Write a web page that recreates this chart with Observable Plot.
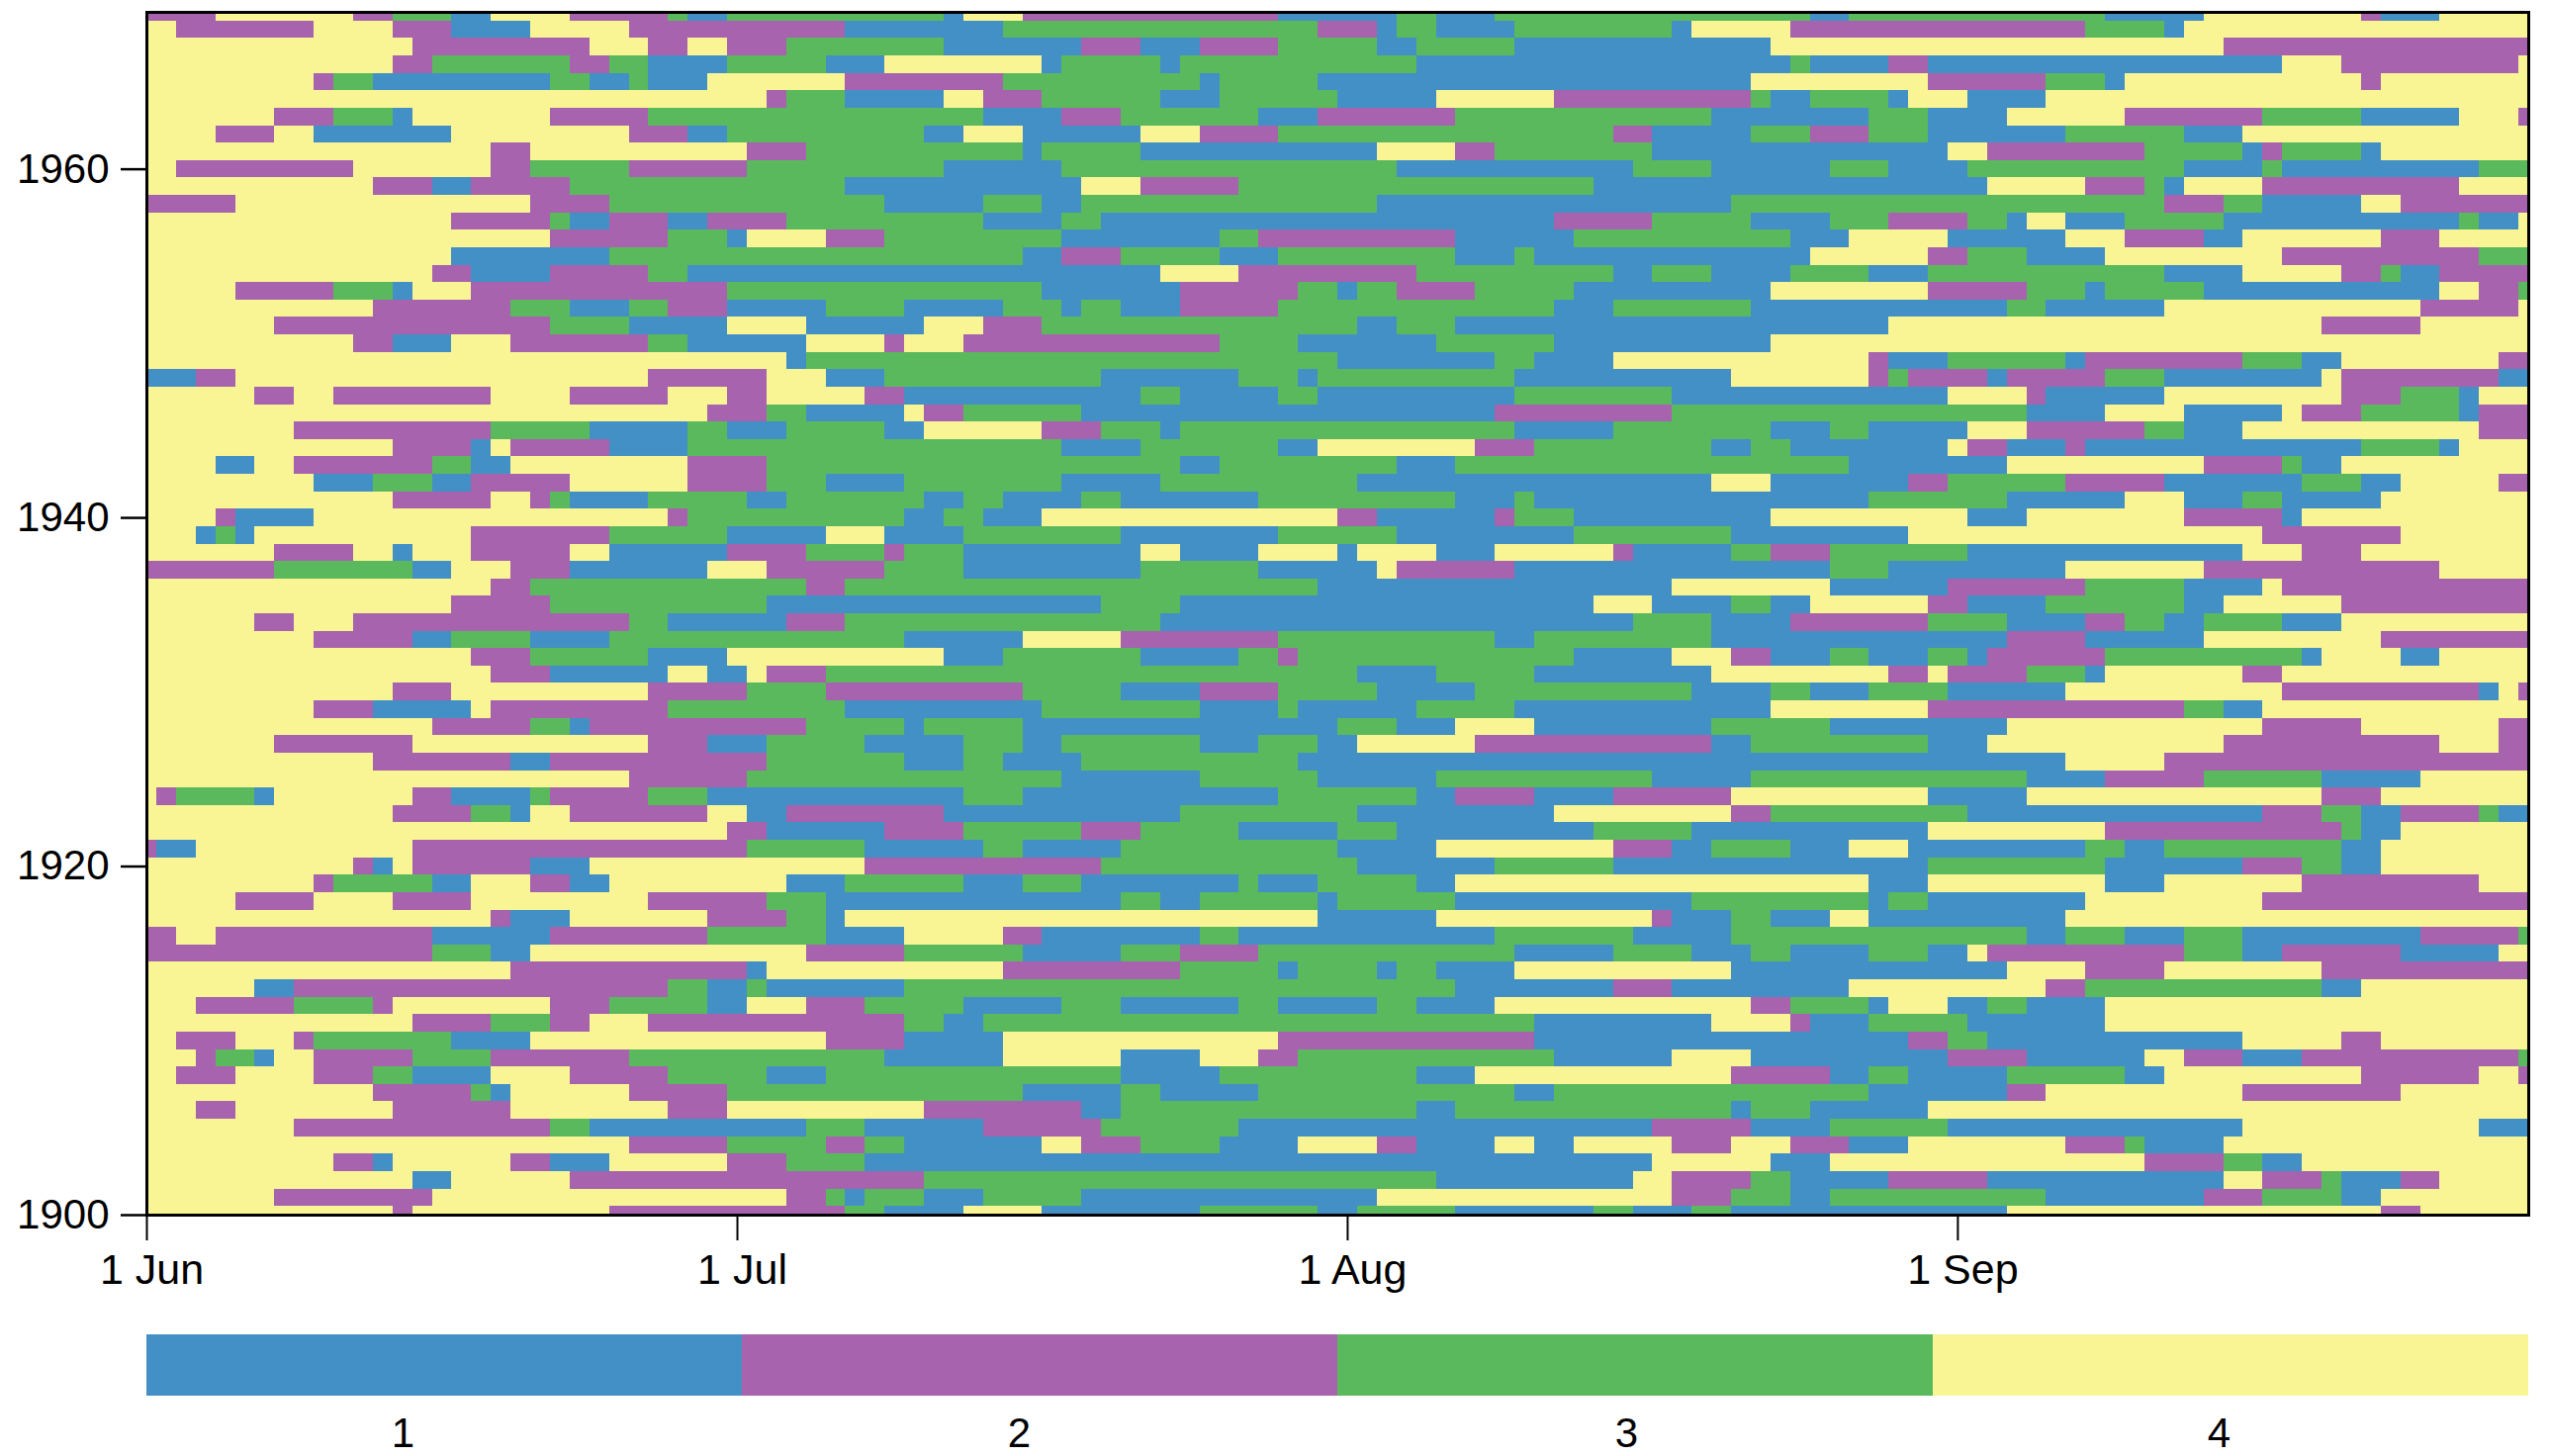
<!DOCTYPE html>
<html>
<head>
<meta charset="utf-8">
<script src="https://cdn.jsdelivr.net/npm/d3@7"></script>
<script src="https://cdn.jsdelivr.net/npm/@observablehq/plot@0.6"></script>
<style>
html,body{margin:0;padding:0;background:#fff;overflow:hidden}
svg{display:block}
</style>
</head>
<body>
<div id="chart"></div>
<div id="legend"></div>
<script>
const states = [1, 2, 3, 4];
const stateLetters = {B: 1, P: 2, G: 3, Y: 4};
const stateColors = ["#4390c6", "#a763ae", "#5ab95d", "#f9f595"];
const firstYear = 1969;
const lastDay = 121;
const yearTicks = [1900, 1920, 1940, 1960];
const dayTicks = [0, 30, 61, 92];
const dayLabels = ["1 Jun", "1 Jul", "1 Aug", "1 Sep"];
const legendLabelAt = [0.43, 1.465, 2.485, 3.48];

// One string per year, from 1969 down to 1900: state letter + first day of the run.
const runs = [
"P0 Y4 P11 G13 B16 Y18 P22 G27 B28 G30 B41 Y42 P45 B58 G64 B66 G69 B85 G87 B100 Y105 P113 B114 Y117",
"Y0 P2 Y9 P13 B16 Y20 P25 B36 G44 P60 B63 G64 B66 G70 B78 Y79 P84 G99 B103 Y104",
"Y0 P14 Y23 P26 Y28 P30 G33 B41 P48 B51 P54 G58 B63 G65 B70 Y83 P106",
"Y0 P13 G15 P22 G24 B26 G30 B35 Y38 B46 G47 B52 G53 B65 G84 B85 P89 B91 Y109 P112 Y121",
"Y0 P9 G10 B12 G21 B23 G25 B26 Y29 P36 G44 B54 G55 B60 Y82 P91 G97 B100 Y101 P113 Y114",
"Y0 P32 G33 B36 Y41 P43 G46 B52 G55 B61 Y66 P72 G82 B83 G85 B89 Y90 B93 Y97",
"Y0 P7 G10 B13 Y14 P21 G26 B43 P47 G50 B57 P60 G67 B80 G88 B91 Y95 P101 G108 B113 Y118 P121",
"Y0 P4 Y7 B9 Y16 P25 B28 G30 B40 Y42 B45 Y51 P54 G58 P75 B77 G82 P85 G88 B91 G98 B104 Y107",
"Y0 P18 Y20 P31 G34 B45 G46 B51 Y63 P67 G69 B77 Y92 P94 G102 B107 P108 G109 B113 Y114",
"Y0 P2 Y11 P18 G20 P25 G31 B41 G47 B64 G76 B80 G86 B89 G93 B104 G108 B109 G119",
"Y0 P12 B15 P17 G22 B36 Y48 P51 G56 B74 Y94 P99 G102 B103 Y104 P108 Y118",
"P0 Y5 P20 G24 B38 G43 B46 G48 B63 G81 P103 G106 B108 Y113 P115",
"Y0 P16 G21 B22 P24 B27 P29 G33 B43 G47 B49 P72 G77 B82 G86 P89 G93 B95 Y96 B98 G101 B106 G118 B119 Y121",
"Y0 P21 G27 B30 Y31 P35 G38 B47 G55 P57 B67 G73 B84 Y87 B92 Y98 P101 B105 Y107 P114 Y117",
"Y0 B16 G24 B45 P47 G50 B55 G58 B67 G70 B71 Y85 P91 G93 B96 Y100 P109 G119",
"Y0 P15 B17 P21 G26 B28 Y52 P56 G65 B75 G77 B80 G84 B88 G91 B103 Y107 P112 G114 B115 P117",
"Y0 P5 G10 B13 Y14 P17 G30 B46 P53 G59 B61 G62 P64 G68 B73 Y83 P91 G96 B99 G100 B105 Y117 P119 G121",
"Y0 P12 G19 B22 G25 P27 B30 G35 B39 G44 B47 G48 B50 P53 G58 B72 G75 B82 G95 B97 Y103 P116 Y121",
"Y0 P7 G21 B25 Y30 B34 Y40 P43 G46 B62 G64 B67 Y89 P111 Y116",
"Y0 P11 B13 Y16 P19 G26 B28 Y34 P38 Y39 P42 G55 B59 G66 B72 Y83",
"Y0 B33 G34 B61 G69 B71 Y75 P88 B89 G92 B98 P99 G107 B110 Y112 P120",
"B0 P3 Y5 P26 Y32 B35 G38 B49 G56 B59 G60 B70 Y81 P88 G89 P90 B94 P95 G100 B103 Y111 P112 B120",
"Y0 P6 Y8 P10 Y18 P22 Y27 P30 Y32 P37 B39 G51 B53 G58 B60 G70 B78 Y92 P96 B97 Y103 P112 G115 B118 Y119",
"Y0 P29 G32 B34 Y39 P40 G42 B48 P69 G78 B96 Y100 B104 Y109 P110 G113 B118 P119",
"Y0 P8 G18 B23 G28 B30 G33 B38 Y40 P46 G49 B52 G53 B70 G75 B83 G86 B88 Y93 P96 G102 B104 Y107 P119",
"Y0 P13 B17 Y18 P19 B24 G28 B47 G51 B58 Y60 P68 G71 B80 G82 B84 Y92 P93 B95 P98 B99 G113 B117 Y118",
"Y0 B4 Y6 P8 G15 B17 Y19 P28 G32 B53 G55 B64 G67 B87 Y95 P105 G109 B110 Y112",
"Y0 B9 G12 B15 P17 Y22 P28 G32 B35 G39 B47 G52 B62 Y80 B83 P90 G92 P98 B103 G110 B113 Y115 P120",
"Y0 P13 Y18 P20 G21 B22 G26 B31 G33 B40 G42 B44 G48 B50 G57 B67 G70 B71 G88 B95 Y101 B104 G107 B109 Y114",
"Y0 P4 B5 Y9 P27 G28 B39 G41 B43 Y46 P61 B63 P69 G70 B73 Y83 B93 Y96 P104 B109 Y110",
"Y0 B3 G4 B5 Y6 P17 G24 B30 Y35 B38 G42 B50 G58 B64 G73 B81 Y90 P108 Y115",
"Y0 P7 Y11 B13 Y14 P17 Y22 B24 P30 G34 P38 G39 B42 Y51 B53 Y57 B61 Y62 B66 Y69 P75 B76 G81 P83 G86 B93 Y107 P110 Y113",
"P0 G7 B14 Y16 P19 B22 Y29 P32 G38 B42 G51 B57 Y63 P64 B70 G86 B89 Y98 P105 Y117",
"Y0 P18 G20 P34 G36 B60 Y78 B86 P92 G99 B104 Y108 P109",
"Y0 P16 G21 B32 G49 B53 Y74 B77 G81 B83 Y85 P91 B93 G97 B104 Y106 P112",
"Y0 P6 Y8 P11 G25 B27 P33 G36 B52 G76 B80 P84 G91 B95 P99 G101 B103 G105 B109 Y112",
"Y0 P9 B14 G16 B20 G24 B39 Y45 P50 G58 B69 G71 B80 P95 B99 Y105 P114",
"Y0 P17 G20 B26 Y30 B41 G44 B51 G56 P58 G59 B73 Y78 P81 B83 G86 B88 G91 B93 P94 G100 B110 Y111 B115 Y117",
"Y0 P18 B21 Y27 B29 Y31 P32 G35 B62 G66 B71 Y80 P89 Y91 P92 G96 B99 Y100 P107 Y109",
"Y0 P13 Y16 P26 G31 P35 G45 B50 P54 G58 B63 G68 B79 G83 B85 G88 B92 Y98 P109 B119 Y120 P121",
"Y0 P9 B12 Y17 P18 G27 B36 G46 B54 G58 B59 G65 B70 Y83 P91 G104 B106 Y108",
"Y0 P15 G20 B22 P23 G34 B39 G40 B45 G61 B64 Y67 B71 G80 B86 Y95 P108 Y113 P120",
"Y0 P7 Y14 P26 B29 G32 B37 G42 B45 G47 B54 G57 B60 Y62 P68 B80 G82 B91 Y94 P106 Y117 P120",
"Y0 P12 B19 P21 G32 B39 G42 B44 G48 B59 Y98 P103",
"Y0 P25 G31 B47 G54 B60 G66 B77 G82 B96 P100 G105 B111 Y116",
"Y0 P1 G2 B6 Y7 P14 B16 G20 P21 G26 B29 G42 B45 G58 B65 P67 B71 P75 Y81 B91 Y96 P111 Y114",
"Y0 P13 G17 B19 Y20 P22 Y29 B31 P33 B41 G53 B62 Y72 P81 G83 B93 P108 G111 B113 P115 G119 B120",
"Y0 P30 B32 P38 G42 P48 G51 B56 G61 B64 G74 B79 Y91 P100 G112 B113 Y115",
"P0 B1 Y3 P14 G31 B37 G43 B45 G50 B61 Y66 P75 B78 G80 B84 Y87 B90 G99 B101 G103 B112 Y114",
"Y0 P11 B12 Y13 P14 B20 Y23 P37 G49 B62 G69 B75 G91 B100 P107 G110 B112 Y114",
"Y0 P9 G10 B15 Y17 P20 B22 Y24 B33 G36 B42 G45 B48 G56 B57 G60 B65 Y67 B88 Y91 B100 Y103 P110 Y119",
"Y0 P5 Y9 P13 Y17 P26 G32 B35 G50 B52 G54 B60 G61 B67 G79 B88 G89 B91 Y99 P108",
"Y0 P18 B19 Y22 P29 G33 B35 Y36 B60 Y66 P77 B78 G81 B83 Y86 B88 Y98",
"P0 Y2 P4 B15 P21 G29 B35 Y39 P44 B46 G54 B56 G69 B76 G81 B96 G98 B101 G104 B107 P116 G121",
"P0 G15 B18 Y20 P34 G39 B45 G50 P53 G57 B70 G75 B79 G82 B84 G88 B91 Y93 P94 G104 B107 P109 B115 Y120",
"Y0 P19 B31 Y32 P44 G53 B58 G59 B63 G64 B66 Y70 B81 Y95 P99 Y103 P111",
"Y0 B6 P8 G27 B29 G31 B32 G39 B67 P75 B78 Y87 P97 G99 B111 Y113",
"Y0 P3 G8 P12 Y13 P21 G24 B29 Y31 P34 G37 B42 G47 B50 G56 B58 G63 B65 Y69 P82 G84 B88 Y89 B92 G94 B96 Y100",
"Y0 P14 G18 P21 Y23 P26 G39 B41 G43 B71 Y80 P84 B85 G88 B93 Y100",
"Y0 P2 Y5 P8 G9 B16 Y20 P35 B39 Y44 P58 B71 P90 G92 B94 Y107 P112 Y114",
"Y0 P3 G4 B6 Y7 P9 G14 P18 G25 B38 Y44 B50 Y54 P57 G59 B72 Y78 B82 P92 B96 Y102 P104 B107 P110 G121",
"Y0 P2 Y5 P9 G12 B14 Y18 P22 G27 B32 G35 B50 G55 B65 Y68 P81 B86 G88 B90 G95 B101 Y103 P113 Y119 P121",
"Y0 P12 G17 B18 Y19 P25 G30 B45 G50 B52 G57 B70 G72 B88 P95 Y97 P107 Y115",
"Y0 P3 Y5 P13 Y19 P27 Y30 P40 B48 G50 B65 G67 B81 G82 B85 Y91",
"Y0 P8 G21 B23 G34 B37 P43 G49 B56 P77 B82 G86 B92 Y107 B119",
"Y0 P25 G30 P35 G37 B39 Y46 P48 G51 B55 Y59 P63 B65 Y69 B71 Y73 P78 Y81 P84 B87 Y90 P98 G101 B102 Y106",
"Y0 P10 B12 Y13 P19 B21 Y24 P30 G33 B37 Y77 B83 Y86 P102 G106 B108 Y110",
"Y0 B14 Y16 P22 G40 B66 Y76 P78 G82 B84 P89 B94 Y106 P108 G111 B112 P115 Y117",
"Y0 P7 Y15 P33 G35 B36 G37 B40 G43 B48 Y63 P78 G81 B84 G86 B97 P105 G108 B112 Y114",
"Y0 P13 Y14 P24 G36 B38 Y42 B46 G54 B60 G62 B67 G74 B76 G79 B81 Y95 P114 Y116"
];

const table = runs.flatMap((line, r) => {
  const parts = line.split(" ").map(s => ({state: stateLetters[s[0]], start: +s.slice(1)}));
  const year = firstYear - r;
  return parts.map((p, i) => ({
    year,
    state: p.state,
    d1: p.start - 0.5,
    d2: (i + 1 < parts.length ? parts[i + 1].start : lastDay + 1) - 0.5
  }));
});

const fontFamily = '"Liberation Sans", Arial, Helvetica, sans-serif';
const colorScale = {type: "ordinal", domain: states, range: stateColors};

const chart = Plot.plot({
  width: 2578, height: 1320,
  marginLeft: 148, marginRight: 22, marginTop: 12, marginBottom: 92,
  style: {fontFamily, background: "#fff", color: "#000"},
  x: {domain: [0, lastDay]},
  y: {domain: [1900, firstYear]},
  color: colorScale,
  marks: [
    Plot.rect(table, {x1: "d1", x2: "d2", y1: d => d.year - 0.5, y2: d => d.year + 0.5,
      fill: "state", clip: true, shapeRendering: "crispEdges"}),
    Plot.frame({stroke: "#000", strokeWidth: 3}),
    Plot.axisY({ticks: yearTicks, tickFormat: d => String(d), tickSize: 26, tickPadding: 12,
      fontSize: 42, strokeWidth: 2.5, label: null, stroke: "#000"}),
    Plot.axisX({ticks: dayTicks, tickFormat: () => "", tickSize: 26,
      strokeWidth: 2, label: null, stroke: "#000"}),
    Plot.axisX({ticks: dayTicks, tickFormat: d => dayLabels[dayTicks.indexOf(d)], tickSize: 0,
      tickPadding: 39, fontSize: 43, dx: 5, label: null})
  ]
});
document.getElementById("chart").append(chart);

const legend = Plot.plot({
  width: 2578, height: 152,
  marginLeft: 148, marginRight: 22, marginTop: 29, marginBottom: 61,
  style: {fontFamily, background: "#fff", color: "#000"},
  x: {domain: [0, states.length], axis: null},
  color: colorScale,
  marks: [
    Plot.barX(states, {x1: d => d - 1, x2: d => d, fill: d => d, shapeRendering: "crispEdges"}),
    Plot.text(states, {x: (d, i) => legendLabelAt[i], text: d => String(d), frameAnchor: "bottom",
      lineAnchor: "bottom", dy: 51, fontSize: 42, fill: "#000"})
  ]
});
document.getElementById("legend").append(legend);
</script>
</body>
</html>
